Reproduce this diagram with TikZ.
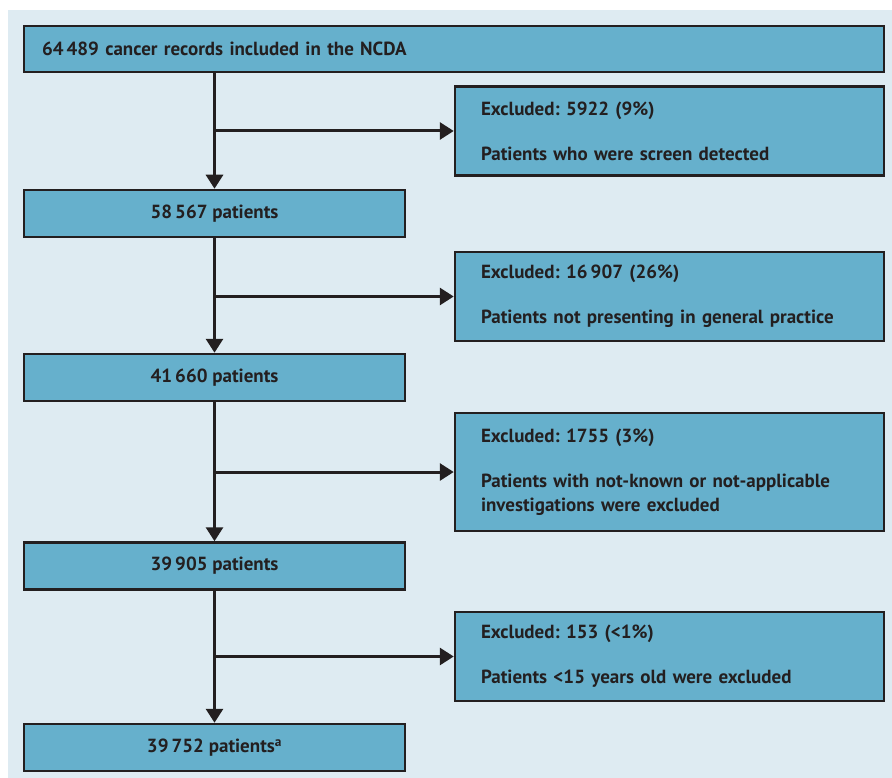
\documentclass[tikz,border=0pt]{standalone}
\usepackage{fontspec}
\setmainfont{PT Sans}
\usetikzlibrary{arrows.meta}
\definecolor{panel}{RGB}{222,235,242}
\definecolor{boxfill}{RGB}{102,176,204}
\definecolor{ink}{RGB}{35,31,32}

\begin{document}
\frenchspacing
\begin{tikzpicture}[x=1pt,y=-1pt,
    stage/.style={draw=ink,fill=boxfill,line width=2.5pt,text=ink,inner sep=0pt,
      font=\fontsize{19}{24}\selectfont\bfseries},
    count/.style={stage,minimum width=381pt,minimum height=47pt},
    excl/.style={stage,text width=377pt,inner xsep=26pt,align=left,minimum height=89pt},
    flow/.style={draw=ink,line width=3pt,-{Triangle[length=14pt,width=17pt]}}]
        \useasboundingbox (0,0) rectangle (892,778);
        \fill[panel] (8,10) rectangle (892,778);

        % main column
        \node[stage,minimum height=46pt,text width=824pt,inner xsep=18pt,align=left] (ncda) at (454,49) {64\,489 cancer records included in the NCDA};
        \node[count] (p1) at (214.5,213.5) {58\,567 patients};
        \node[count] (p2) at (214.5,377.5) {41\,660 patients};
        \node[count] (p3) at (214.5,566) {39\,905 patients};
        \node[count] (p4) at (214.5,747.5) {39\,752 patients\textsuperscript{a}};

        % exclusions
        \node[excl] (ex1) at (669.5,131) {Excluded: 5922 (9\%)\\[21pt]Patients who were screen detected};
        \node[excl] (ex2) at (669.5,296.5) {Excluded: 16\,907 (26\%)\\[21pt]Patients not presenting in general practice};
        \node[excl,minimum height=118pt] (ex3) at (669.5,472) {Excluded: 1755 (3\%)\\[21pt]Patients with not-known or not-applicable\\investigations were excluded};
        \node[excl] (ex4) at (669.5,656.5) {Excluded: 153 (<1\%)\\[21pt]Patients <15 years old were excluded};

        \draw[flow] (ncda.south -| p1.north) -- (p1.north);
        \draw[flow] (p1.south) -- (p2.north);
        \draw[flow] (p2.south) -- (p3.north);
        \draw[flow] (p3.south) -- (p4.north);

        \foreach \i in {1,...,4} {
          \draw[flow] (p\i.north |- ex\i.west) -- (ex\i.west);
        }
      \end{tikzpicture}
\end{document}
